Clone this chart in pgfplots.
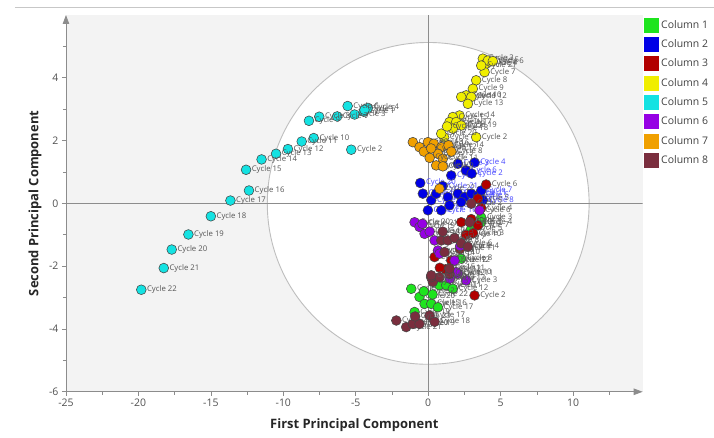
\documentclass[border=0pt]{standalone}
\usepackage{fontspec}
\setmainfont{Open Sans}
\usepackage{pgfplots}
\pgfplotsset{compat=1.18}
\usepackage{pgfplotstable}
\usetikzlibrary{arrows.meta,calc}

\definecolor{c1}{RGB}{30,228,30}
\definecolor{c2}{RGB}{0,0,230}
\definecolor{c3}{RGB}{178,0,0}
\definecolor{c4}{RGB}{240,238,0}
\definecolor{c5}{RGB}{20,226,226}
\definecolor{c6}{RGB}{150,0,228}
\definecolor{c7}{RGB}{240,160,0}
\definecolor{c8}{RGB}{122,46,62}
\definecolor{bggray}{RGB}{243,243,243}
\definecolor{axgray}{RGB}{140,140,140}
\definecolor{circgray}{RGB}{190,190,190}
\definecolor{tickgray}{RGB}{80,80,80}
\definecolor{lblgray}{RGB}{85,85,85}
\definecolor{lblblue}{RGB}{70,70,255}
\definecolor{edge}{RGB}{70,70,70}

\pgfplotstableread[col sep=comma,row sep=\\]{
x,y,lab\\
-1.17,-2.72,Cycle 1\\
-0.60,-2.98,Cycle 20\\
-0.25,-3.20,Cycle 15\\
0.21,-3.20,Cycle 16\\
-0.94,-3.46,Cycle 19\\
0.67,-3.31,Cycle 17\\
0.78,-2.61,Cycle 10\\
1.24,-2.61,Cycle 11\\
1.70,-2.72,Cycle 12\\
2.97,-0.81,Cycle 5\\
3.66,-0.45,Cycle 3\\
2.28,-1.76,Cycle 8\\
3.66,-0.60,Cycle 4\\
-0.30,-2.80,Cycle 21\\
0.30,-2.90,Cycle 22\\
}\colA
\pgfplotstableread[col sep=comma,row sep=\\]{
x,y,lab\\
1.59,0.89,Cycle 1\\
2.05,1.26,Cycle 3\\
3.20,1.30,Cycle 4\\
-0.55,0.65,Cycle 20\\
-0.37,0.31,Cycle 19\\
0.21,0.10,Cycle 18\\
-0.02,-0.22,Cycle 17\\
0.90,-0.22,Cycle 16\\
0.55,0.31,Cycle 15\\
1.36,0.20,Cycle 14\\
2.05,0.31,Cycle 13\\
2.51,0.20,Cycle 12\\
2.97,0.31,Cycle 11\\
3.43,0.25,Cycle 5\\
1.47,-0.06,Cycle 10\\
2.28,0.04,Cycle 9\\
3.66,0.41,Cycle 7\\
3.77,0.10,Cycle 8\\
2.60,1.05,Cycle 6\\
1.00,0.55,Cycle 21\\
3.00,0.95,Cycle 2\\
}\colB
\pgfplotstableread[col sep=comma,row sep=\\]{
x,y,lab\\
4.00,0.60,Cycle 6\\
3.43,0.15,Cycle 5\\
2.28,-0.60,Cycle 9\\
2.97,-0.50,Cycle 8\\
3.43,-0.70,Cycle 7\\
3.66,-0.15,Cycle 4\\
1.59,-1.82,Cycle 12\\
0.44,-1.71,Cycle 14\\
3.20,-2.93,Cycle 2\\
2.60,-1.00,Cycle 10\\
1.20,-2.10,Cycle 13\\
0.80,-2.05,Cycle 15\\
2.20,-1.45,Cycle 11\\
3.10,-0.95,Cycle 3\\
}\colC
\pgfplotstableread[col sep=comma,row sep=\\]{
x,y,lab\\
1.10,2.10,Cycle 1\\
3.31,2.11,Cycle 2\\
3.77,4.61,Cycle 3\\
4.00,4.45,Cycle 4\\
4.12,4.55,Cycle 5\\
4.46,4.53,Cycle 6\\
3.89,4.18,Cycle 7\\
3.31,3.92,Cycle 8\\
3.08,3.65,Cycle 9\\
2.62,3.44,Cycle 10\\
2.28,3.39,Cycle 11\\
2.97,3.39,Cycle 12\\
2.74,3.17,Cycle 13\\
2.16,2.80,Cycle 14\\
1.70,2.75,Cycle 15\\
1.47,2.59,Cycle 16\\
1.93,2.59,Cycle 17\\
1.70,2.38,Cycle 18\\
2.28,2.48,Cycle 19\\
0.90,2.22,Cycle 20\\
3.66,4.39,Cycle 21\\
1.30,2.45,Cycle 22\\
}\colD
\pgfplotstableread[col sep=comma,row sep=\\]{
x,y,lab\\
-4.45,2.92,Cycle 1\\
-5.31,1.71,Cycle 2\\
-5.08,2.83,Cycle 3\\
-4.16,3.04,Cycle 4\\
-4.40,2.98,Cycle 5\\
-5.56,3.10,Cycle 6\\
-6.28,2.77,Cycle 7\\
-7.52,2.76,Cycle 8\\
-8.23,2.63,Cycle 9\\
-7.90,2.08,Cycle 10\\
-8.73,1.97,Cycle 11\\
-9.68,1.73,Cycle 12\\
-10.50,1.58,Cycle 13\\
-11.50,1.40,Cycle 14\\
-12.57,1.07,Cycle 15\\
-12.37,0.41,Cycle 16\\
-13.65,0.09,Cycle 17\\
-15.00,-0.41,Cycle 18\\
-16.55,-0.99,Cycle 19\\
-17.70,-1.47,Cycle 20\\
-18.25,-2.06,Cycle 21\\
-19.80,-2.75,Cycle 22\\
}\colE
\pgfplotstableread[col sep=comma,row sep=\\]{
x,y,lab\\
-0.94,-0.60,Cycle 20\\
-0.60,-0.75,Cycle 19\\
-0.25,-0.97,Cycle 18\\
0.44,-1.18,Cycle 16\\
0.67,-1.50,Cycle 15\\
0.78,-1.60,Cycle 14\\
1.82,-1.82,Cycle 12\\
2.05,-2.24,Cycle 11\\
2.20,-1.36,Cycle 9\\
3.54,-0.22,Cycle 6\\
1.93,-2.19,Cycle 10\\
2.62,-2.45,Cycle 3\\
-0.40,-0.65,Cycle 21\\
0.10,-0.90,Cycle 17\\
1.50,-2.40,Cycle 13\\
}\colF
\pgfplotstableread[col sep=comma,row sep=\\]{
x,y,lab\\
-1.06,1.95,Cycle 20\\
-0.60,1.79,Cycle 19\\
-0.02,1.95,Cycle 18\\
-0.30,1.65,Cycle 17\\
0.39,1.90,Cycle 16\\
0.90,1.79,Cycle 12\\
0.67,1.58,Cycle 13\\
1.01,1.42,Cycle 11\\
0.55,1.21,Cycle 10\\
1.01,1.18,Cycle 9\\
0.78,0.47,Cycle 22\\
0.20,1.75,Cycle 15\\
1.40,1.85,Cycle 14\\
0.10,1.45,Cycle 21\\
1.60,1.65,Cycle 8\\
}\colG
\pgfplotstableread[col sep=comma,row sep=\\]{
x,y,lab\\
-2.20,-3.73,Cycle 22\\
-1.52,-3.94,Cycle 21\\
-1.06,-3.84,Cycle 20\\
-0.60,-3.84,Cycle 19\\
0.09,-3.57,Cycle 17\\
0.44,-3.77,Cycle 18\\
0.32,-2.50,Cycle 15\\
0.20,-2.35,Cycle 14\\
0.78,-2.35,Cycle 13\\
1.47,-2.24,Cycle 12\\
2.97,-0.01,Cycle 2\\
2.86,-0.60,Cycle 3\\
0.90,-1.18,Cycle 9\\
1.36,-1.18,Cycle 8\\
1.82,-1.10,Cycle 7\\
2.28,-1.27,Cycle 6\\
2.74,-1.38,Cycle 4\\
1.13,-1.55,Cycle 10\\
0.21,-2.29,Cycle 16\\
1.47,-2.08,Cycle 11\\
-0.90,-3.60,Cycle 23\\
1.00,-0.90,Cycle 5\\
}\colH

\pgfplotsset{
  pt/.style={only marks, mark=*, mark size=4.9bp,
    mark options={fill=#1, draw=edge, line width=0.55bp},
    legend image code/.code={\fill[#1] (0bp,-7bp) rectangle (14bp,7bp);},
    point meta=explicit symbolic,
    nodes near coords={\pgfplotspointmeta},
    nodes near coords align={anchor=west},
    every node near coord/.append style={anchor=west, xshift=5.5bp, inner sep=0pt,
      font=\fontsize{7.8}{8}\selectfont, text=lblgray}},
}

\begin{document}
\begin{tikzpicture}
\begin{axis}[
  scale only axis, width=577bp, height=377bp,
  xmin=-25, xmax=14.8, ymin=-6, ymax=6,
  axis lines=left,
  axis line style={draw=axgray, line width=0.8bp, -{Triangle[length=9bp,width=6.5bp]}},
  axis background/.style={fill=bggray},
  xtick={-25,-20,...,10}, ytick={-6,-4,...,4},
  minor xtick={-22.5,-17.5,...,12.5}, minor ytick={-5,-3,...,5},
  tick align=outside, major tick length=4bp, minor tick length=3bp,
  every tick/.style={axgray, line width=0.6bp},
  tick label style={font=\fontsize{10.5}{12}\selectfont, text=tickgray},
  /pgf/number format/assume math mode=true,
  xlabel={First Principal Component},
  ylabel={Second Principal Component},
  xlabel style={at={(axis description cs:0.5,0)}, anchor=center, yshift=-33bp,
    font=\bfseries\fontsize{13}{15}\selectfont, text=black!85},
  ylabel style={at={(axis description cs:0,0.5)}, anchor=center, yshift=31bp,
    font=\bfseries\fontsize{13}{15}\selectfont, text=black!85},
  legend style={at={(rel axis cs:1,1)}, anchor=north west, xshift=1bp, yshift=-2bp,
    draw=none, fill=none, inner sep=0pt, row sep=3.9bp,
    font=\fontsize{10.5}{12}\selectfont, text=black!75,
    cells={anchor=west}, nodes={inner sep=3bp}},
]
\coordinate (sw) at (rel axis cs:0,0);
\filldraw[fill=white, draw=circgray, line width=0.9bp] (axis cs:0,0) circle[radius=161bp];
\draw[axgray, line width=0.8bp] (axis cs:0,-6) -- (axis cs:0,6);
\draw[axgray, line width=0.8bp] (axis cs:-25,0) -- (axis cs:14.8,0);
\addplot[pt=c1] table[x=x,y=y,meta=lab] {\colA};
\addlegendentry{Column 1}
\addplot[pt=c2, every node near coord/.append style={text=lblblue}] table[x=x,y=y,meta=lab] {\colB};
\addlegendentry{Column 2}
\addplot[pt=c3] table[x=x,y=y,meta=lab] {\colC};
\addlegendentry{Column 3}
\addplot[pt=c4] table[x=x,y=y,meta=lab] {\colD};
\addlegendentry{Column 4}
\addplot[pt=c5] table[x=x,y=y,meta=lab] {\colE};
\addlegendentry{Column 5}
\addplot[pt=c6] table[x=x,y=y,meta=lab] {\colF};
\addlegendentry{Column 6}
\addplot[pt=c7] table[x=x,y=y,meta=lab] {\colG};
\addlegendentry{Column 7}
\addplot[pt=c8] table[x=x,y=y,meta=lab] {\colH};
\addlegendentry{Column 8}
\end{axis}
\draw[black!22, line width=0.8bp] ($(sw)+(-51bp,385bp)$) -- ++(699bp,0);
\path ($(sw)+(-66bp,-46bp)$) rectangle ++(714bp,438bp);
\end{tikzpicture}
\end{document}
